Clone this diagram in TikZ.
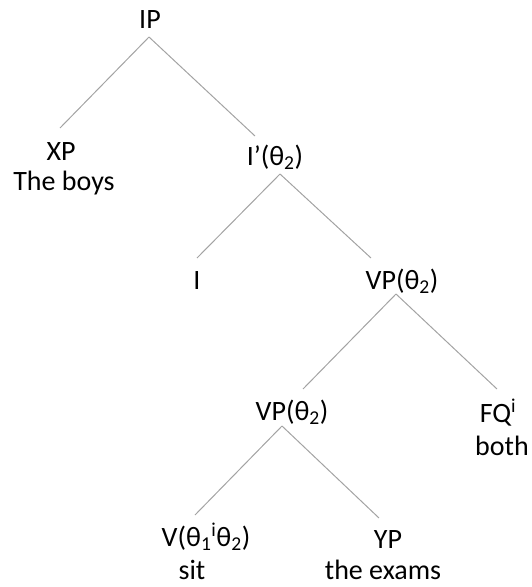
\documentclass[tikz,border=0pt]{standalone}
\usepackage{fontspec}
\setmainfont{Carlito}
\usepackage{xcolor}
\usetikzlibrary{positioning}
\definecolor{branchgray}{HTML}{A3A3A3}
\tikzset{
  word/.style  ={anchor=base, inner sep=0pt, font=\fontsize{28}{33}\selectfont},
  % one branch of the tree, from below the mother to above the daughter
  branch/.style={draw=branchgray, line width=1pt},
}
% name / x / baseline / label (pixel units, y grows downwards)
\def\catlist{%
  ip/150/28/IP, xp/61/160/XP, ibar/275/165/I’(θ\textsubscript{2}),
  infl/197/289/I, vp/402/289/VP(θ\textsubscript{2}),
  vpb/292/420/VP(θ\textsubscript{2}), fq/498/422/FQ\textsuperscript{i},
  verb/206/546/V(θ\textsubscript{1}\textsuperscript{i}θ\textsubscript{2}),
  yp/388/548/YP}
\def\wordlist{%
  boys/64/190/The boys, both/502/455/both, sit/192/579/sit,
  exams/383/579/the exams}
% mother / dx / dy / daughter / dx / dy
\def\branchlist{%
  ip/-1/9/xp/-1/-32, ip/-1/9/ibar/-20/-29,
  ibar/5/9/infl/0/-31, ibar/5/9/vp/-31/-31,
  vp/-6/5/vpb/11/-31, vp/-6/5/fq/-1/-33,
  vpb/-10/6/verb/-11/-31, vpb/-10/6/yp/-9/-30}

\begin{document}
\begin{tikzpicture}[x=1pt,y=-1pt]
\useasboundingbox (0,0) rectangle (531,587);
\foreach \n/\x/\y/\lab in \catlist
  {\node[word] (\n) at (\x,\y) {\lab};}
\foreach \n/\x/\y/\lab in \wordlist
  {\node[word] (\n) at (\x,\y) {\lab};}
\foreach \a/\ax/\ay/\b/\bx/\by in \branchlist
  {\draw[branch] ([shift={(\ax,\ay)}]\a.base) -- ([shift={(\bx,\by)}]\b.base);}
\end{tikzpicture}
\end{document}
